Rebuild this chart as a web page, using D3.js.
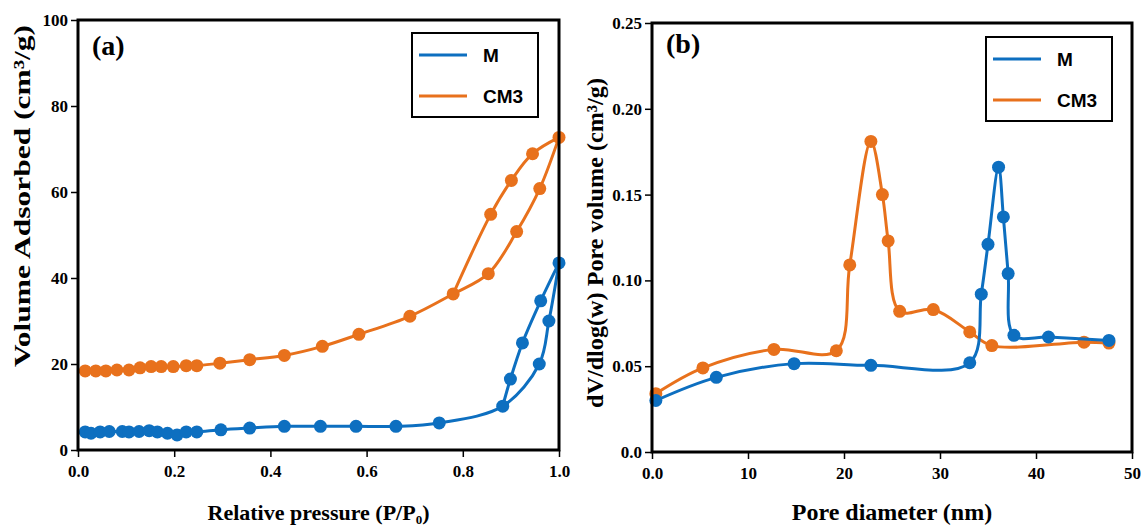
<!DOCTYPE html>
<html>
<head>
<meta charset="utf-8">
<script src="https://cdn.jsdelivr.net/npm/d3@7"></script>
<style>
    body { margin: 0; background: #fff; }
    svg { display: block; }
    .title { font-family: "Liberation Serif", "Times New Roman", serif; font-weight: bold; fill: #000; }
    .legend text { font-family: "Liberation Sans", Arial, sans-serif; font-weight: bold; font-size: 19px; fill: #000; }
</style>
</head>
<body>
<script>
// (a) N2 isotherms
const mAdsP = [0.015, 0.027, 0.046, 0.065, 0.092, 0.106, 0.127, 0.148, 0.165, 0.186, 0.206, 0.225, 0.247, 0.297, 0.357, 0.429, 0.504, 0.578, 0.661, 0.751, 0.883, 0.959, 0.979, 1.0];
const mAdsV = [4.2, 3.9, 4.2, 4.3, 4.3, 4.2, 4.3, 4.5, 4.2, 3.9, 3.5, 4.2, 4.2, 4.7, 5.1, 5.5, 5.5, 5.5, 5.5, 6.3, 10.2, 20.0, 30.0, 43.5];
const mDesP = [1.0, 0.962, 0.924, 0.899, 0.883];
const mDesV = [43.5, 34.7, 24.9, 16.5, 10.2];
const cmAdsP = [0.015, 0.037, 0.058, 0.081, 0.106, 0.129, 0.152, 0.173, 0.198, 0.225, 0.247, 0.295, 0.357, 0.429, 0.508, 0.584, 0.690, 0.780, 0.853, 0.912, 0.960, 1.0];
const cmAdsV = [18.4, 18.4, 18.4, 18.6, 18.6, 19.1, 19.4, 19.4, 19.4, 19.6, 19.6, 20.2, 21.0, 22.0, 24.1, 26.9, 31.1, 36.3, 41.0, 50.8, 60.8, 72.7];
const cmDesP = [1.0, 0.945, 0.901, 0.858, 0.780];
const cmDesV = [72.7, 68.9, 62.7, 54.8, 36.3];

// (b) pore size distribution
const mPoreD = [0.4, 6.7, 14.8, 22.8, 33.1, 34.3, 35.0, 36.1, 36.6, 37.1, 37.7, 41.3, 47.6];
const mPoreV = [0.030, 0.0435, 0.0515, 0.0505, 0.052, 0.092, 0.121, 0.166, 0.137, 0.104, 0.068, 0.067, 0.065];
const cmPoreD = [0.4, 5.3, 12.7, 19.2, 20.6, 22.8, 24.0, 24.6, 25.8, 29.3, 33.1, 35.4, 45.0, 47.6];
const cmPoreV = [0.034, 0.049, 0.0598, 0.059, 0.109, 0.181, 0.150, 0.123, 0.082, 0.083, 0.070, 0.062, 0.064, 0.0635];

const aXTicks = [0, 0.2, 0.4, 0.6, 0.8, 1.0];
const aXLabels = ["0.0", "0.2", "0.4", "0.6", "0.8", "1.0"];
const aYTicks = [0, 20, 40, 60, 80, 100];
const aYLabels = ["0", "20", "40", "60", "80", "100"];
const bXTicks = [0, 10, 20, 30, 40, 50];
const bXLabels = ["0.0", "10", "20", "30", "40", "50"];
const bYTicks = [0, 0.05, 0.10, 0.15, 0.20, 0.25];
const bYLabels = ["0.0", "0.05", "0.10", "0.15", "0.20", "0.25"];

const seriesNames = ["M", "CM3"];
const blue = "#0D6FC0";
const orange = "#E8711C";
const serif = '"Liberation Serif", "Times New Roman", serif';

const svg = d3.select("body").append("svg")
    .attr("width", 1143)
    .attr("height", 528);

function zip(xs, ys) {
    return xs.map((x, i) => [x, ys[i]]);
}

function styleAxis(g) {
    g.select(".domain").remove();
    g.selectAll(".tick line").attr("stroke", "#000").attr("stroke-width", 1.5);
    g.selectAll(".tick text")
        .attr("fill", "#000")
        .style("font-family", serif)
        .style("font-size", "17px")
        .style("font-weight", "bold");
}

function drawPanel(p) {
    const x = d3.scaleLinear().domain(p.xDomain).range([p.left, p.right]);
    const y = d3.scaleLinear().domain(p.yDomain).range([p.bottom, p.top]);

    svg.append("g")
        .attr("transform", `translate(0,${p.bottom})`)
        .call(d3.axisBottom(x).tickValues(p.xTicks).tickFormat((d, i) => p.xLabels[i]).tickSize(7).tickPadding(8))
        .call(styleAxis);

    svg.append("g")
        .attr("transform", `translate(${p.left},0)`)
        .call(d3.axisLeft(y).tickValues(p.yTicks).tickFormat((d, i) => p.yLabels[i]).tickSize(7).tickPadding(3))
        .call(styleAxis);

    const line = d3.line()
        .x(d => x(d[0]))
        .y(d => y(d[1]))
        .curve(d3.curveCatmullRom.alpha(0.5));

    // draw in the given order (later series on top)
    p.drawOrder.forEach(k => {
        const s = p.series[k];
        s.paths.forEach(pts => {
            svg.append("path")
                .attr("d", line(pts))
                .attr("fill", "none")
                .attr("stroke", s.color)
                .attr("stroke-width", 3);
        });
        svg.append("g").selectAll("circle")
            .data(s.points)
            .enter()
            .append("circle")
            .attr("cx", d => x(d[0]))
            .attr("cy", d => y(d[1]))
            .attr("r", 6.5)
            .attr("fill", s.color);
    });

    // frame
    svg.append("rect")
        .attr("x", p.left)
        .attr("y", p.top)
        .attr("width", p.right - p.left)
        .attr("height", p.bottom - p.top)
        .attr("fill", "none")
        .attr("stroke", "#000")
        .attr("stroke-width", 3);

    svg.append("text")
        .attr("class", "title")
        .attr("x", p.left + 14)
        .attr("y", p.top + p.tagDy)
        .style("font-size", "28px")
        .text(p.tag);

    // legend
    const lg = svg.append("g").attr("class", "legend")
        .attr("transform", `translate(${p.legX},${p.legY})`);
    lg.append("rect")
        .attr("width", 126)
        .attr("height", p.legH)
        .attr("fill", "#fff")
        .attr("stroke", "#000")
        .attr("stroke-width", 2);
    p.series.forEach((s, i) => {
        const ly = p.legRow0 + i * p.legRowGap;
        lg.append("line")
            .attr("x1", 7).attr("x2", 55)
            .attr("y1", ly).attr("y2", ly)
            .attr("stroke", s.color)
            .attr("stroke-width", 3);
        lg.append("text")
            .attr("x", 71)
            .attr("y", ly)
            .attr("dy", "0.36em")
            .text(s.name);
    });

    // x title
    const xt = svg.append("text")
        .attr("class", "title")
        .attr("x", (p.left + p.right) / 2)
        .attr("y", 520)
        .attr("text-anchor", "middle")
        .style("font-size", p.xTitleSize + "px");
    p.xTitle(xt);

    // y title
    svg.append("text")
        .attr("class", "title")
        .attr("transform", `translate(${p.yTitleX},${p.yTitleY}) rotate(-90)`)
        .attr("text-anchor", "middle")
        .attr("dy", "0.35em")
        .attr("textLength", p.yTitleLen)
        .attr("lengthAdjust", "spacingAndGlyphs")
        .style("font-size", "23px")
        .text(p.yTitle);
}

drawPanel({
    left: 78, right: 559, top: 20, bottom: 450,
    xDomain: [0, 1], yDomain: [0, 100],
    xTicks: aXTicks, xLabels: aXLabels, yTicks: aYTicks, yLabels: aYLabels,
    tag: "(a)", tagDy: 35,
    legX: 412, legY: 33, legH: 84, legRow0: 22, legRowGap: 41,
    series: [
        { name: seriesNames[0], color: blue,
          paths: [zip(mAdsP, mAdsV), zip(mDesP, mDesV)],
          points: zip(mAdsP, mAdsV).concat(zip(mDesP, mDesV).slice(1, -1)) },
        { name: seriesNames[1], color: orange,
          paths: [zip(cmAdsP, cmAdsV), zip(cmDesP, cmDesV)],
          points: zip(cmAdsP, cmAdsV).concat(zip(cmDesP, cmDesV).slice(1, -1)) }
    ],
    drawOrder: [0, 1],
    xTitleSize: 22,
    xTitle: t => {
        t.append("tspan").text("Relative pressure (P/P");
        t.append("tspan").attr("dy", 4).style("font-size", "13px").text("0");
        t.append("tspan").attr("dy", -4).text(")");
    },
    yTitle: "Volume Adsorbed (cm³/g)",
    yTitleX: 22, yTitleY: 196, yTitleLen: 342
});

drawPanel({
    left: 652, right: 1132, top: 23, bottom: 452,
    xDomain: [0, 50], yDomain: [0, 0.25],
    xTicks: bXTicks, xLabels: bXLabels, yTicks: bYTicks, yLabels: bYLabels,
    tag: "(b)", tagDy: 30,
    legX: 986, legY: 37, legH: 84, legRow0: 22, legRowGap: 41,
    series: [
        { name: seriesNames[0], color: blue,
          paths: [zip(mPoreD, mPoreV)],
          points: zip(mPoreD, mPoreV) },
        { name: seriesNames[1], color: orange,
          paths: [zip(cmPoreD, cmPoreV)],
          points: zip(cmPoreD, cmPoreV) }
    ],
    drawOrder: [1, 0],
    xTitleSize: 24,
    xTitle: t => t.text("Pore diameter (nm)"),
    yTitle: "dV/dlog(w) Pore volume (cm³/g)",
    yTitleX: 595, yTitleY: 243, yTitleLen: 330
});
</script>
</body>
</html>
